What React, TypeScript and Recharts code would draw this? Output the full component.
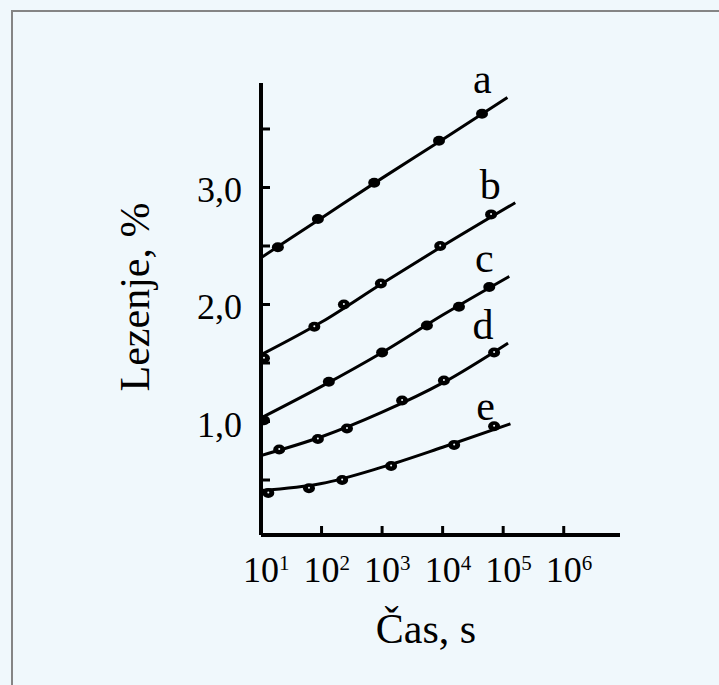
import { ComposedChart, Line, Scatter, XAxis, YAxis, LabelList } from "recharts"

const FONT = '"Liberation Serif", "Times New Roman", serif'
const BG = "#f0f8fc"

// fitted curves: time in seconds, creep in %
const A_FIT_TIME = [10, 100, 1000, 10000, 117500]
const A_FIT = [2.4, 2.74, 3.08, 3.41, 3.77]
const B_FIT_TIME = [10, 100, 1000, 10000, 158500]
const B_FIT = [1.57, 1.85, 2.18, 2.5, 2.87]
const C_FIT_TIME = [10, 100, 1000, 10000, 126000]
const C_FIT = [1.03, 1.3, 1.59, 1.91, 2.24]
const D_FIT_TIME = [10, 100, 1000, 10000, 120000]
const D_FIT = [0.71, 0.87, 1.08, 1.33, 1.67]
const E_FIT_TIME = [10, 100, 1000, 10000, 132000]
const E_FIT = [0.41, 0.47, 0.61, 0.78, 0.98]

// measured points
const A_TIME = [19, 87, 741, 8710, 44700]
const A_VAL = [2.49, 2.73, 3.04, 3.4, 3.63]
const B_TIME = [11.2, 76, 234, 955, 9120, 63100]
const B_VAL = [1.54, 1.81, 2.0, 2.18, 2.5, 2.77]
const C_TIME = [11.2, 132, 1000, 5500, 18600, 58900]
const C_VAL = [1.01, 1.34, 1.59, 1.82, 1.98, 2.15]
const D_TIME = [20, 87, 263, 2140, 10500, 70800]
const D_VAL = [0.76, 0.85, 0.94, 1.18, 1.35, 1.59]
const E_TIME = [13.2, 62, 219, 1410, 15500, 70800]
const E_VAL = [0.39, 0.43, 0.5, 0.62, 0.8, 0.96]

const TIME_TICKS = [10, 100, 1000, 10000, 100000, 1000000]
const VALUE_TICKS = [0.5, 1, 1.5, 2, 2.5, 3, 3.5]

const zip = (ts: number[], vs: number[]) => ts.map((t, i) => ({ t, v: vs[i] }))

const SERIES = [
  { name: "a", fit: zip(A_FIT_TIME, A_FIT), pts: zip(A_TIME, A_VAL), speck: false },
  { name: "b", fit: zip(B_FIT_TIME, B_FIT), pts: zip(B_TIME, B_VAL), speck: true },
  { name: "c", fit: zip(C_FIT_TIME, C_FIT), pts: zip(C_TIME, C_VAL), speck: false },
  { name: "d", fit: zip(D_FIT_TIME, D_FIT), pts: zip(D_TIME, D_VAL), speck: true },
  { name: "e", fit: zip(E_FIT_TIME, E_FIT), pts: zip(E_TIME, E_VAL), speck: true },
]

function TimeTick({ x, y, payload }: any) {
  const exp = Math.round(Math.log10(payload.value))
  return (
    <g>
      {exp > 1 && <line x1={x} x2={x} y1={y} y2={y - 9} stroke="#000" strokeWidth={3} />}
      <text x={x} y={y + 47} textAnchor="middle" fontSize={36} fill="#000">10</text>
      <text x={x + 18} y={y + 35} fontSize={21} fill="#000">{exp}</text>
    </g>
  )
}

function ValueTick({ x, y, payload }: any) {
  const v = payload.value as number
  return (
    <g>
      <line x1={x} x2={x + 9} y1={y} y2={y} stroke="#000" strokeWidth={3} />
      {Number.isInteger(v) && (
        <text x={x - 19} y={y + 15} textAnchor="end" fontSize={36} fill="#000">
          {v.toFixed(1).replace(".", ",")}
        </text>
      )}
    </g>
  )
}

function Marker({ cx, cy, speck }: any) {
  return (
    <g>
      <ellipse cx={cx} cy={cy} rx={6} ry={5} fill="#000" />
      {speck && <circle cx={cx} cy={cy - 0.5} r={1} fill={BG} />}
    </g>
  )
}

function endLabel(name: string, last: number) {
  return (p: any) => {
    if (p.index !== last) return null
    const x = p.x ?? p.viewBox?.x
    const y = p.y ?? p.viewBox?.y
    return (
      <text x={x - 25} y={y - 4} textAnchor="middle" fontSize={42} fill="#000">
        {name}
      </text>
    )
  }
}

export default function App() {
  return (
    <div
      style={{
        position: "fixed",
        left: 0,
        top: 0,
        right: 0,
        bottom: 0,
        background: BG,
        fontFamily: FONT,
        overflow: "hidden",
      }}
    >
      <style>{"html,body{margin:0;overflow:hidden;background:" + BG + "}"}</style>
      <div
        style={{
          position: "absolute",
          left: 11,
          top: 10,
          right: -10,
          bottom: -10,
          borderTop: "2px solid #858585",
          borderLeft: "2px solid #858585",
        }}
      />
      <div style={{ position: "absolute", left: 0, top: 0 }}>
        <ComposedChart width={719} height={685} margin={{ top: 83, right: 99, bottom: 70, left: 201 }}>
          <XAxis
            dataKey="t"
            type="number"
            scale="log"
            domain={[10, 8.5e6]}
            ticks={TIME_TICKS}
            allowDataOverflow
            height={80}
            tickSize={0}
            tickMargin={0}
            tickLine={false}
            axisLine={{ stroke: "#000", strokeWidth: 4 }}
            tick={<TimeTick />}
          />
          <YAxis
            dataKey="v"
            type="number"
            domain={[0.03, 3.893]}
            ticks={VALUE_TICKS}
            allowDataOverflow
            width={60}
            tickSize={0}
            tickMargin={0}
            tickLine={false}
            axisLine={{ stroke: "#000", strokeWidth: 4 }}
            tick={<ValueTick />}
          />
          {SERIES.map((s) => (
            <Line
              key={"fit-" + s.name}
              data={s.fit}
              dataKey="v"
              type="monotone"
              stroke="#000"
              strokeWidth={3}
              dot={false}
              isAnimationActive={false}
            >
              <LabelList dataKey="v" content={endLabel(s.name, s.fit.length - 1)} />
            </Line>
          ))}
          {SERIES.map((s) => (
            <Scatter
              key={"pts-" + s.name}
              data={s.pts}
              dataKey="v"
              isAnimationActive={false}
              shape={(p: any) => <Marker cx={p.cx} cy={p.cy} speck={s.speck} />}
            />
          ))}
        </ComposedChart>
      </div>
      <svg
        width={719}
        height={685}
        style={{ position: "absolute", left: 0, top: 0, pointerEvents: "none" }}
      >
        <text x={149} y={297} transform="rotate(-90 149 297)" textAnchor="middle" fontSize={42} fill="#000">
          Lezenje, %
        </text>
        <text x={426} y={643} textAnchor="middle" fontSize={42} fill="#000">
          Čas, s
        </text>
      </svg>
    </div>
  )
}
